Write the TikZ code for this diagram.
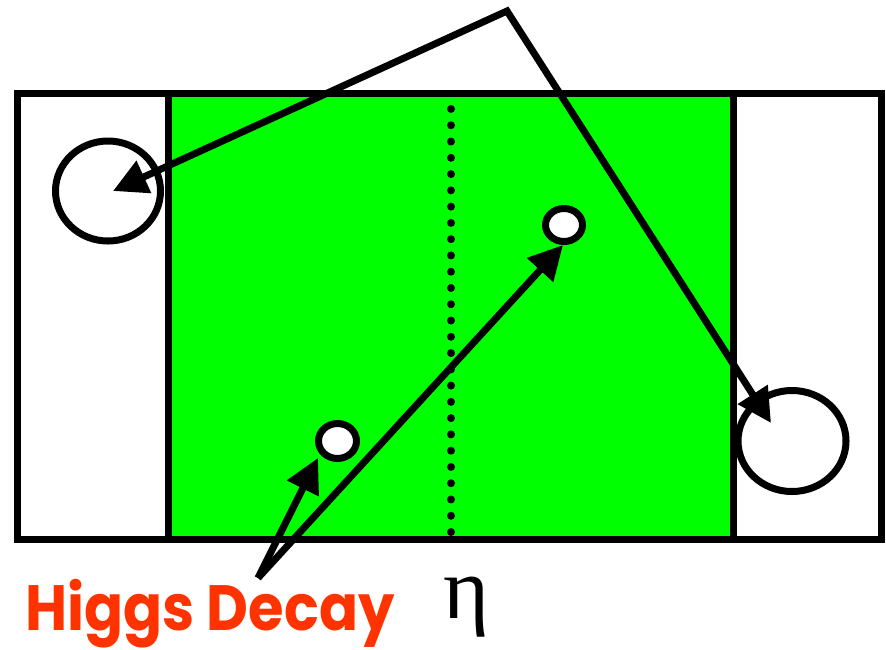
\documentclass[tikz,border=0pt]{standalone}
\usepackage{fontspec}
\usetikzlibrary{arrows.meta}
\newfontfamily\labelfont{Poppins}
\newfontfamily\greekfont{Liberation Serif}
\definecolor{brightgreen}{HTML}{00FF00}
\definecolor{higgsorange}{HTML}{FF3300}
\tikzset{
  thick line/.style={line width=7pt},
  big tip/.style={-{Triangle[length=34pt,width=34pt]}},
}
\begin{document}
\begin{tikzpicture}[x=1pt,y=-1pt]
\useasboundingbox (0,0) rectangle (886,649);
% regions
\fill[white] (17,93) rectangle (881,539);
\fill[brightgreen] (168,93) rectangle (733,539);
\draw[thick line, line join=miter] (17,93) rectangle (881,539);
\draw[thick line] (168,93) -- (168,539);
\draw[thick line] (733,93) -- (733,539);
% dotted centre line
\draw[line width=8pt, line cap=round, dash pattern=on 0pt off 16.27pt] (451,109) -- (451,535);
% circles
\draw[thick line, fill=white] (108,191) ellipse [x radius=52.5, y radius=50];
\draw[thick line, fill=white] (792,441) ellipse [x radius=54, y radius=50.5];
\draw[thick line, fill=white] (337.5,441) ellipse [x radius=19, y radius=17.5];
\draw[thick line, fill=white] (564,225) ellipse [x radius=18.5, y radius=16.5];
% named points
\coordinate (apex) at (507,11);
\coordinate (leftTip) at (113,191);
\coordinate (rightTip) at (771,423);
\coordinate (origin) at (258,578);
\coordinate (tipA) at (318,458);
\coordinate (tipB) at (563,245);
% connectors
\draw[thick line, line join=miter, {Triangle[length=34pt,width=34pt]}-{Triangle[length=34pt,width=34pt]}] (leftTip) -- (apex) -- (rightTip);
\draw[thick line, big tip] (origin) -- (tipA);
\draw[thick line, big tip] (origin) -- (tipB);
% labels
\node[anchor=base west, inner sep=0pt, text=higgsorange, xscale=0.9] (higgs) at (25,630)
  {\labelfont\bfseries\fontsize{64}{64}\selectfont Higgs Decay};
\node[anchor=base west, inner sep=0pt] (eta) at (443,618)
  {\greekfont\fontsize{88}{88}\selectfont η};
\end{tikzpicture}
\end{document}
